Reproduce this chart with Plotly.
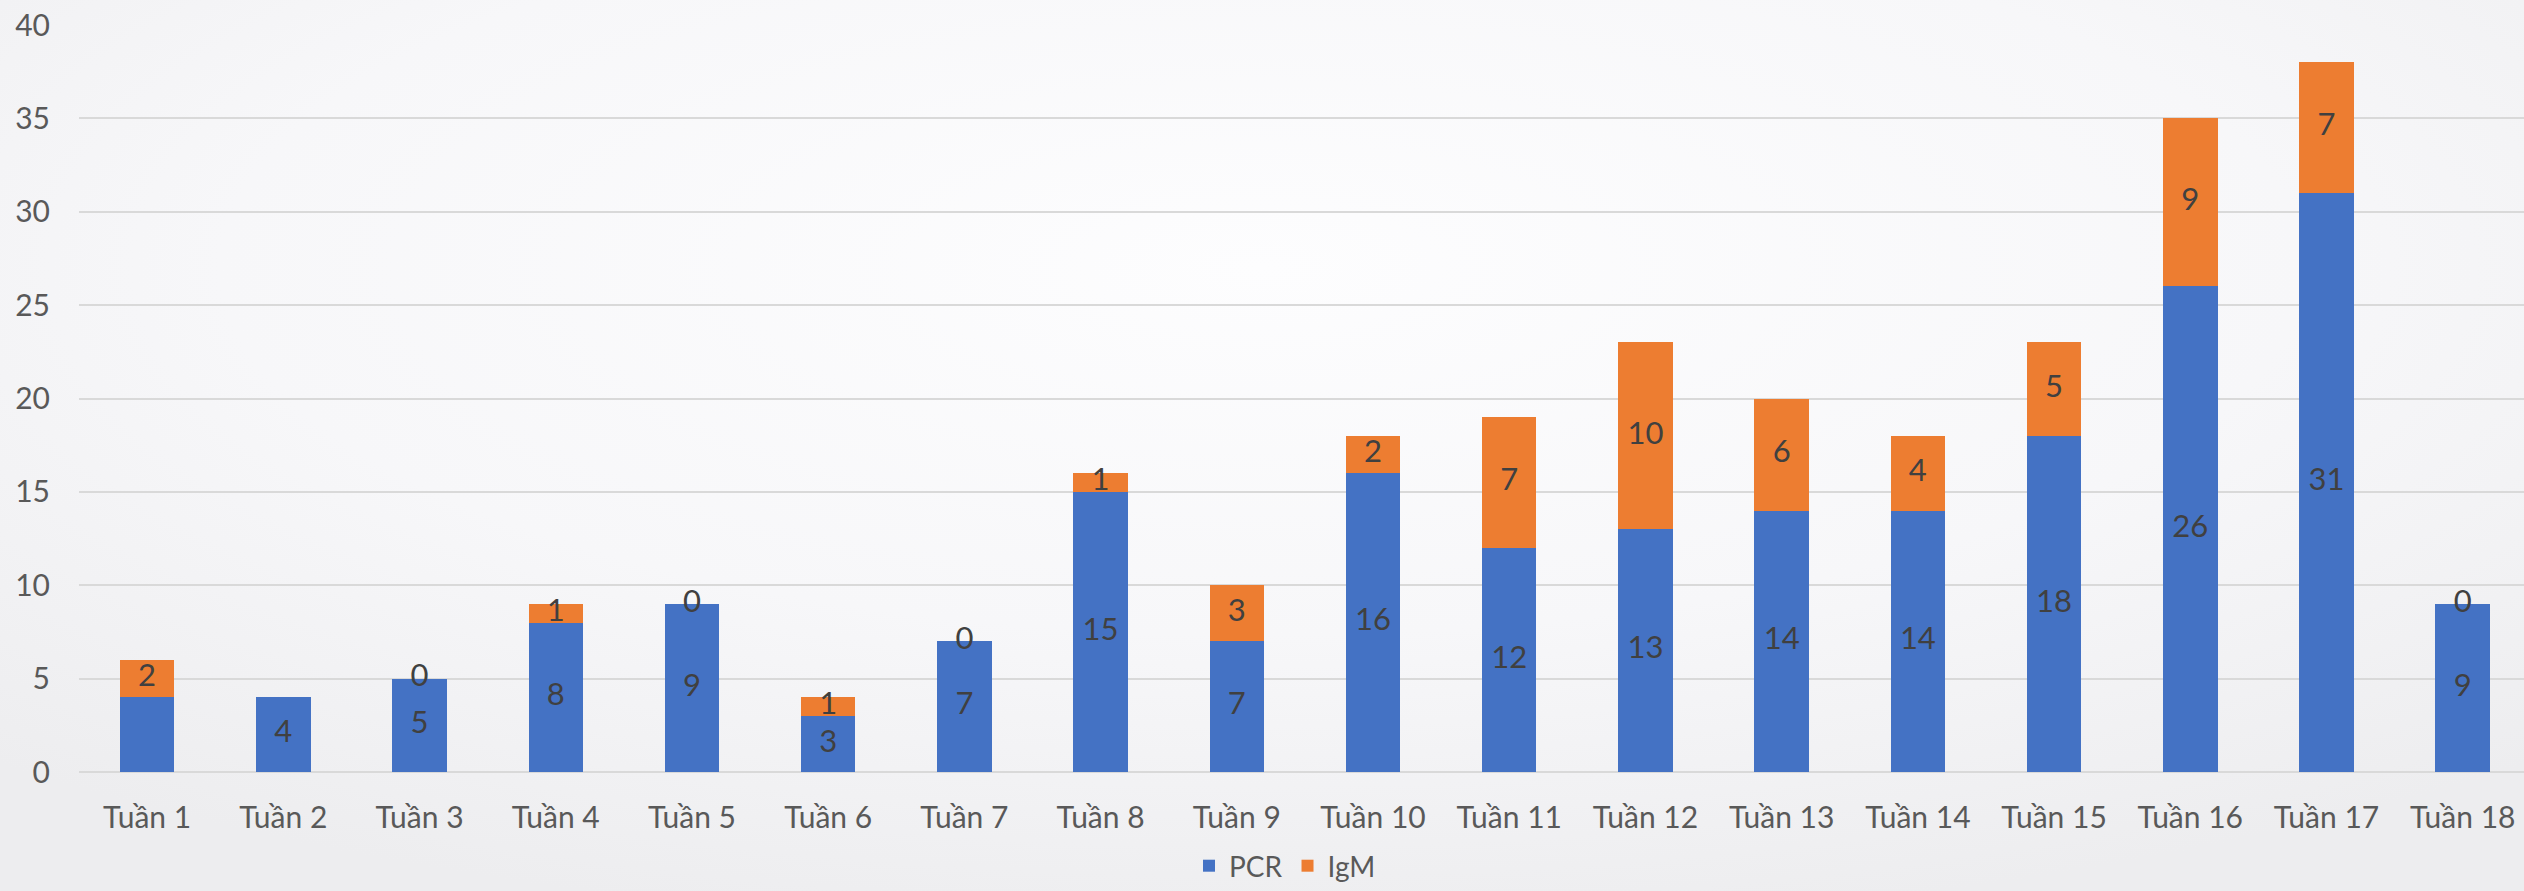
import base64
import plotly.graph_objects as go

# Weekly confirmed cases by test type
weeks = [f"Tuần {i}" for i in range(1, 19)]
pcr = [4, 4, 5, 8, 9, 3, 7, 15, 7, 16, 12, 13, 14, 14, 18, 26, 31, 9]
igm = [2, None, 0, 1, 0, 1, 0, 1, 3, 2, 7, 10, 6, 4, 5, 9, 7, 0]
y_ticks = [0, 5, 10, 15, 20, 25, 30, 35, 40]
pcr_label_hidden = {"Tuần 1"}

BLUE = "#4472C4"
ORANGE = "#ED7D31"
LABEL = "#404040"
TICK = "#595959"
FONT = "Lato, Open Sans, sans-serif"

W, H = 2524, 891
M_L, M_R, M_T, M_B = 79, 0, 25, 119
plot_w, plot_h = W - M_L - M_R, H - M_T - M_B

fig = go.Figure()
fig.add_trace(go.Bar(x=weeks, y=pcr, name="PCR", marker=dict(color=BLUE, line=dict(width=0)),
                     hoverinfo="skip"))
fig.add_trace(go.Bar(x=weeks, y=igm, name="IgM", marker=dict(color=ORANGE, line=dict(width=0)),
                     hoverinfo="skip"))

# Segment labels, centred in each stacked segment
pcr_text_x, pcr_text_y, pcr_text = [], [], []
for w, p in zip(weeks, pcr):
    if w in pcr_label_hidden:
        continue
    pcr_text_x.append(w)
    pcr_text_y.append(p / 2)
    pcr_text.append(str(p))

igm_text_x, igm_text_y, igm_text = [], [], []
for w, p, g in zip(weeks, pcr, igm):
    if g is None:
        continue
    igm_text_x.append(w)
    igm_text_y.append(p + g / 2)
    igm_text.append(str(g))

for tx, ty, tt in ((pcr_text_x, pcr_text_y, pcr_text), (igm_text_x, igm_text_y, igm_text)):
    fig.add_trace(go.Scatter(x=tx, y=ty, text=tt, mode="text", textposition="middle center",
                             textfont=dict(family=FONT, size=31, color=LABEL),
                             showlegend=False, hoverinfo="skip", cliponaxis=False))

# Soft light-grey backdrop
svg = (
    f'<svg xmlns="http://www.w3.org/2000/svg" width="{W}" height="{H}">'
    '<defs><radialGradient id="g" cx="50%" cy="30%" r="75%">'
    '<stop offset="0%" stop-color="#FDFDFE"/>'
    '<stop offset="55%" stop-color="#F7F7F9"/>'
    '<stop offset="100%" stop-color="#EDEDEF"/>'
    '</radialGradient></defs>'
    f'<rect width="{W}" height="{H}" fill="url(#g)"/></svg>'
)
bg_src = "data:image/svg+xml;base64," + base64.b64encode(svg.encode()).decode()

fig.update_layout(
    width=W, height=H,
    margin=dict(l=M_L, r=M_R, t=M_T, b=M_B, pad=0, autoexpand=False),
    paper_bgcolor="#F5F5F7",
    plot_bgcolor="rgba(0,0,0,0)",
    barmode="stack",
    bargap=0.6,
    font=dict(family=FONT, color=TICK),
    images=[dict(source=bg_src, xref="paper", yref="paper",
                 x=-M_L / plot_w, y=1 + M_T / plot_h,
                 sizex=W / plot_w, sizey=H / plot_h,
                 xanchor="left", yanchor="top", sizing="stretch", layer="below")],
    xaxis=dict(
        type="category", range=[-0.5, 17.45], showgrid=False, zeroline=False,
        showline=False, ticks="", tickfont=dict(family=FONT, size=30, color=TICK),
        ticklabelstandoff=25, automargin=False,
    ),
    yaxis=dict(
        range=[0, 40], tickvals=y_ticks, ticktext=[str(v) for v in y_ticks],
        showgrid=True, gridcolor="#D9D9D9", gridwidth=2,
        zeroline=True, zerolinecolor="#D9D9D9", zerolinewidth=2,
        showline=False, ticks="", tickfont=dict(family=FONT, size=30, color=TICK),
        ticklabelstandoff=28, automargin=False,
    ),
    legend=dict(
        orientation="h", xref="paper", x=(1285 - M_L) / plot_w, xanchor="center",
        yref="container", y=0.0, yanchor="bottom",
        font=dict(family=FONT, size=28, color=TICK),
        bgcolor="rgba(0,0,0,0)", traceorder="normal", itemclick=False,
    ),
    showlegend=True,
)

fig.write_html("out.html")
